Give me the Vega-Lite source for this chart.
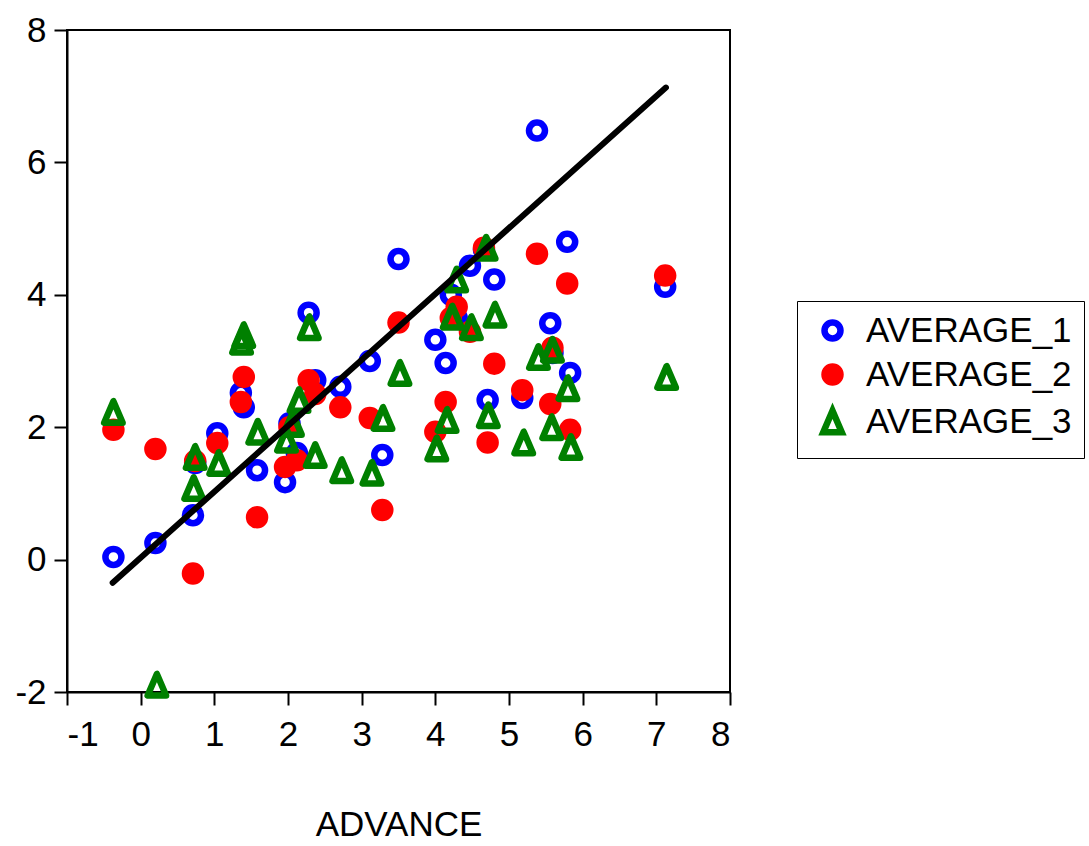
{
  "$schema": "https://vega.github.io/schema/vega-lite/v6.json",
  "width": 663,
  "height": 662,
  "autosize": {"type": "none"},
  "padding": {"left": 67, "top": 30, "right": 359, "bottom": 154},
  "background": "white",
  "config": {
    "font": "Liberation Sans",
    "view": {"stroke": "black", "strokeWidth": 2},
    "axis": {
      "grid": false,
      "domainColor": "black",
      "domainWidth": 2,
      "tickColor": "black",
      "tickWidth": 2,
      "tickSize": 13,
      "labelFont": "Liberation Sans",
      "labelFontSize": 35,
      "labelColor": "black",
      "titleFont": "Liberation Sans",
      "titleFontSize": 35,
      "titleFontWeight": "normal",
      "titleColor": "black"
    },
    "legend": {
      "orient": "none",
      "legendX": 730,
      "legendY": 271,
      "labelFont": "Liberation Sans",
      "labelFontSize": 35,
      "labelColor": "black",
      "labelLimit": 400,
      "strokeColor": "black",
      "padding": 12,
      "rowPadding": 1,
      "symbolOffset": 6,
      "labelOffset": 16,
      "symbolStrokeWidth": 6.5
    }
  },
  "datasets": {
    "pts": [
      {"advance": -0.37, "series": "AVERAGE_1", "value": 0.04},
      {"advance": 0.20, "series": "AVERAGE_1", "value": 0.25},
      {"advance": 0.71, "series": "AVERAGE_1", "value": 0.67},
      {"advance": 0.74, "series": "AVERAGE_1", "value": 1.46},
      {"advance": 1.04, "series": "AVERAGE_1", "value": 1.91},
      {"advance": 1.36, "series": "AVERAGE_1", "value": 2.52},
      {"advance": 1.40, "series": "AVERAGE_1", "value": 2.30},
      {"advance": 1.58, "series": "AVERAGE_1", "value": 1.35},
      {"advance": 1.96, "series": "AVERAGE_1", "value": 1.17},
      {"advance": 2.02, "series": "AVERAGE_1", "value": 2.06},
      {"advance": 2.12, "series": "AVERAGE_1", "value": 1.61},
      {"advance": 2.28, "series": "AVERAGE_1", "value": 3.73},
      {"advance": 2.37, "series": "AVERAGE_1", "value": 2.71},
      {"advance": 2.71, "series": "AVERAGE_1", "value": 2.61},
      {"advance": 3.11, "series": "AVERAGE_1", "value": 3.00},
      {"advance": 3.28, "series": "AVERAGE_1", "value": 1.58},
      {"advance": 3.50, "series": "AVERAGE_1", "value": 4.54},
      {"advance": 4.00, "series": "AVERAGE_1", "value": 3.32},
      {"advance": 4.14, "series": "AVERAGE_1", "value": 2.97},
      {"advance": 4.21, "series": "AVERAGE_1", "value": 4.00},
      {"advance": 4.29, "series": "AVERAGE_1", "value": 3.65},
      {"advance": 4.47, "series": "AVERAGE_1", "value": 4.44},
      {"advance": 4.66, "series": "AVERAGE_1", "value": 4.68},
      {"advance": 4.71, "series": "AVERAGE_1", "value": 2.41},
      {"advance": 4.80, "series": "AVERAGE_1", "value": 4.23},
      {"advance": 5.18, "series": "AVERAGE_1", "value": 2.44},
      {"advance": 5.38, "series": "AVERAGE_1", "value": 6.48},
      {"advance": 5.56, "series": "AVERAGE_1", "value": 3.57},
      {"advance": 5.59, "series": "AVERAGE_1", "value": 3.12},
      {"advance": 5.79, "series": "AVERAGE_1", "value": 4.80},
      {"advance": 5.83, "series": "AVERAGE_1", "value": 2.82},
      {"advance": 7.12, "series": "AVERAGE_1", "value": 4.12},
      {"advance": -0.37, "series": "AVERAGE_2", "value": 1.96},
      {"advance": 0.20, "series": "AVERAGE_2", "value": 1.67},
      {"advance": 0.71, "series": "AVERAGE_2", "value": -0.21},
      {"advance": 0.74, "series": "AVERAGE_2", "value": 1.49},
      {"advance": 1.04, "series": "AVERAGE_2", "value": 1.76},
      {"advance": 1.36, "series": "AVERAGE_2", "value": 2.38},
      {"advance": 1.40, "series": "AVERAGE_2", "value": 2.76},
      {"advance": 1.58, "series": "AVERAGE_2", "value": 0.64},
      {"advance": 1.96, "series": "AVERAGE_2", "value": 1.40},
      {"advance": 2.02, "series": "AVERAGE_2", "value": 2.00},
      {"advance": 2.12, "series": "AVERAGE_2", "value": 1.50},
      {"advance": 2.28, "series": "AVERAGE_2", "value": 2.71},
      {"advance": 2.37, "series": "AVERAGE_2", "value": 2.50},
      {"advance": 2.71, "series": "AVERAGE_2", "value": 2.30},
      {"advance": 3.11, "series": "AVERAGE_2", "value": 2.14},
      {"advance": 3.28, "series": "AVERAGE_2", "value": 0.75},
      {"advance": 3.50, "series": "AVERAGE_2", "value": 3.58},
      {"advance": 4.00, "series": "AVERAGE_2", "value": 1.93},
      {"advance": 4.14, "series": "AVERAGE_2", "value": 2.38},
      {"advance": 4.21, "series": "AVERAGE_2", "value": 3.65},
      {"advance": 4.29, "series": "AVERAGE_2", "value": 3.82},
      {"advance": 4.47, "series": "AVERAGE_2", "value": 3.44},
      {"advance": 4.66, "series": "AVERAGE_2", "value": 4.71},
      {"advance": 4.71, "series": "AVERAGE_2", "value": 1.77},
      {"advance": 4.80, "series": "AVERAGE_2", "value": 2.96},
      {"advance": 5.18, "series": "AVERAGE_2", "value": 2.56},
      {"advance": 5.38, "series": "AVERAGE_2", "value": 4.62},
      {"advance": 5.56, "series": "AVERAGE_2", "value": 2.35},
      {"advance": 5.59, "series": "AVERAGE_2", "value": 3.20},
      {"advance": 5.79, "series": "AVERAGE_2", "value": 4.17},
      {"advance": 5.83, "series": "AVERAGE_2", "value": 1.96},
      {"advance": 7.12, "series": "AVERAGE_2", "value": 4.29},
      {"advance": -0.37, "series": "AVERAGE_3", "value": 2.23},
      {"advance": 0.22, "series": "AVERAGE_3", "value": -1.89},
      {"advance": 0.72, "series": "AVERAGE_3", "value": 1.08},
      {"advance": 0.74, "series": "AVERAGE_3", "value": 1.55},
      {"advance": 1.06, "series": "AVERAGE_3", "value": 1.46},
      {"advance": 1.37, "series": "AVERAGE_3", "value": 3.29},
      {"advance": 1.40, "series": "AVERAGE_3", "value": 3.39},
      {"advance": 1.59, "series": "AVERAGE_3", "value": 1.93},
      {"advance": 1.98, "series": "AVERAGE_3", "value": 1.81},
      {"advance": 2.06, "series": "AVERAGE_3", "value": 2.05},
      {"advance": 2.15, "series": "AVERAGE_3", "value": 2.41},
      {"advance": 2.29, "series": "AVERAGE_3", "value": 3.51},
      {"advance": 2.37, "series": "AVERAGE_3", "value": 1.58},
      {"advance": 2.73, "series": "AVERAGE_3", "value": 1.35},
      {"advance": 3.14, "series": "AVERAGE_3", "value": 1.31},
      {"advance": 3.29, "series": "AVERAGE_3", "value": 2.14},
      {"advance": 3.52, "series": "AVERAGE_3", "value": 2.82},
      {"advance": 4.02, "series": "AVERAGE_3", "value": 1.68},
      {"advance": 4.16, "series": "AVERAGE_3", "value": 2.11},
      {"advance": 4.23, "series": "AVERAGE_3", "value": 3.67},
      {"advance": 4.29, "series": "AVERAGE_3", "value": 4.23},
      {"advance": 4.49, "series": "AVERAGE_3", "value": 3.51},
      {"advance": 4.69, "series": "AVERAGE_3", "value": 4.71},
      {"advance": 4.72, "series": "AVERAGE_3", "value": 2.18},
      {"advance": 4.81, "series": "AVERAGE_3", "value": 3.70},
      {"advance": 5.20, "series": "AVERAGE_3", "value": 1.77},
      {"advance": 5.40, "series": "AVERAGE_3", "value": 3.06},
      {"advance": 5.58, "series": "AVERAGE_3", "value": 2.00},
      {"advance": 5.59, "series": "AVERAGE_3", "value": 3.17},
      {"advance": 5.80, "series": "AVERAGE_3", "value": 2.59},
      {"advance": 5.84, "series": "AVERAGE_3", "value": 1.70},
      {"advance": 7.14, "series": "AVERAGE_3", "value": 2.76}
    ],
    "fit": [
      {"advance": -0.38, "value": -0.35},
      {"advance": 7.13, "value": 7.13}
    ]
  },
  "layer": [
    {
      "data": {"name": "pts"},
      "mark": {"type": "point", "strokeWidth": 6.5, "opacity": 1, "strokeJoin": "round"},
      "encoding": {
        "x": {
          "field": "advance",
          "type": "quantitative",
          "scale": {"domain": [-1, 8], "nice": false, "zero": false},
          "axis": {
            "values": [-1, 0, 1, 2, 3, 4, 5, 6, 7, 8],
            "labelExpr": "'' + datum.value",
            "title": "ADVANCE",
            "labelPadding": 12,
            "titlePadding": 55
          }
        },
        "y": {
          "field": "value",
          "type": "quantitative",
          "scale": {"domain": [-2, 8], "nice": false, "zero": false},
          "axis": {
            "values": [-2, 0, 2, 4, 6, 8],
            "labelExpr": "'' + datum.value",
            "title": null,
            "labelPadding": 8
          }
        },
        "color": {
          "field": "series",
          "type": "nominal",
          "scale": {"domain": ["AVERAGE_1", "AVERAGE_2", "AVERAGE_3"], "range": ["#0000FF", "#FF0000", "#008000"]},
          "legend": {"title": null}
        },
        "fill": {
          "field": "series",
          "type": "nominal",
          "scale": {"domain": ["AVERAGE_1", "AVERAGE_2", "AVERAGE_3"], "range": ["transparent", "#FF0000", "transparent"]},
          "legend": {"title": null}
        },
        "shape": {
          "field": "series",
          "type": "nominal",
          "scale": {"domain": ["AVERAGE_1", "AVERAGE_2", "AVERAGE_3"], "range": ["circle", "circle", "M0,-1L-0.86,1L0.86,1Z"]},
          "legend": {"title": null}
        },
        "size": {
          "field": "series",
          "type": "nominal",
          "scale": {"type": "ordinal", "domain": ["AVERAGE_1", "AVERAGE_2", "AVERAGE_3"], "range": [256, 256, 462]},
          "legend": {"title": null}
        }
      }
    },
    {
      "data": {"name": "fit"},
      "mark": {"type": "line", "color": "black", "strokeWidth": 6, "strokeCap": "round"},
      "encoding": {
        "x": {"field": "advance", "type": "quantitative"},
        "y": {"field": "value", "type": "quantitative"}
      }
    }
  ]
}
